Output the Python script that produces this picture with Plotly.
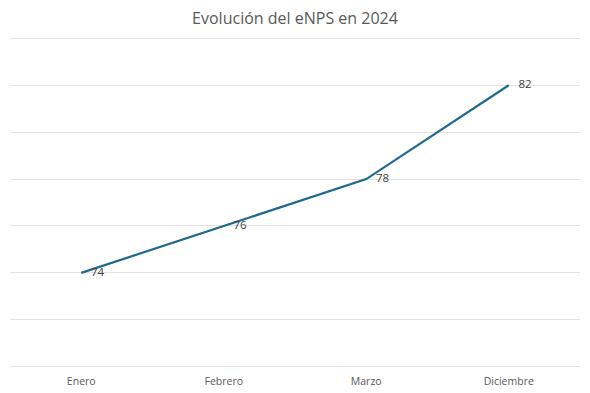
import plotly.graph_objects as go

categories = ["Enero", "Febrero", "Marzo", "Diciembre"]
enps_values = [74, 76, 78, 82]
labels = [str(v) for v in enps_values]

fig = go.Figure()
fig.add_trace(go.Scatter(
    x=categories, y=enps_values, mode="lines+markers+text",
    text=labels, textposition="middle right",
    textfont=dict(size=11.5, color="#404040", family="Open Sans"),
    line=dict(color="#1F6A8C", width=2.2),
    marker=dict(size=14, opacity=0),
    cliponaxis=False, hoverinfo="skip"
))

# page body has an 8px margin; compensate so the plot lands where the reference does
fig.update_layout(
    width=582, height=385,
    margin=dict(l=2, r=10, t=28, b=24),
    paper_bgcolor="white", plot_bgcolor="white",
    showlegend=False,
    title=dict(text="Evolución del eNPS en 2024", x=0.5, xanchor="center",
               xref="paper", y=1 - 10.5 / 385, yanchor="middle",
               font=dict(size=16, color="#595959", family="Open Sans")),
    font=dict(family="Open Sans", color="#595959"),
)
fig.update_xaxes(showgrid=False, showline=False, zeroline=False,
                 tickfont=dict(size=10.5, color="#595959"), ticks="",
                 ticklabelstandoff=4,
                 range=[-0.5, 3.5])
fig.update_yaxes(range=[69.9, 84.1], dtick=2, tick0=70, showticklabels=False,
                 gridcolor="#E3E3E3", gridwidth=1, zeroline=False, showline=False)

fig.write_html("out.html")
